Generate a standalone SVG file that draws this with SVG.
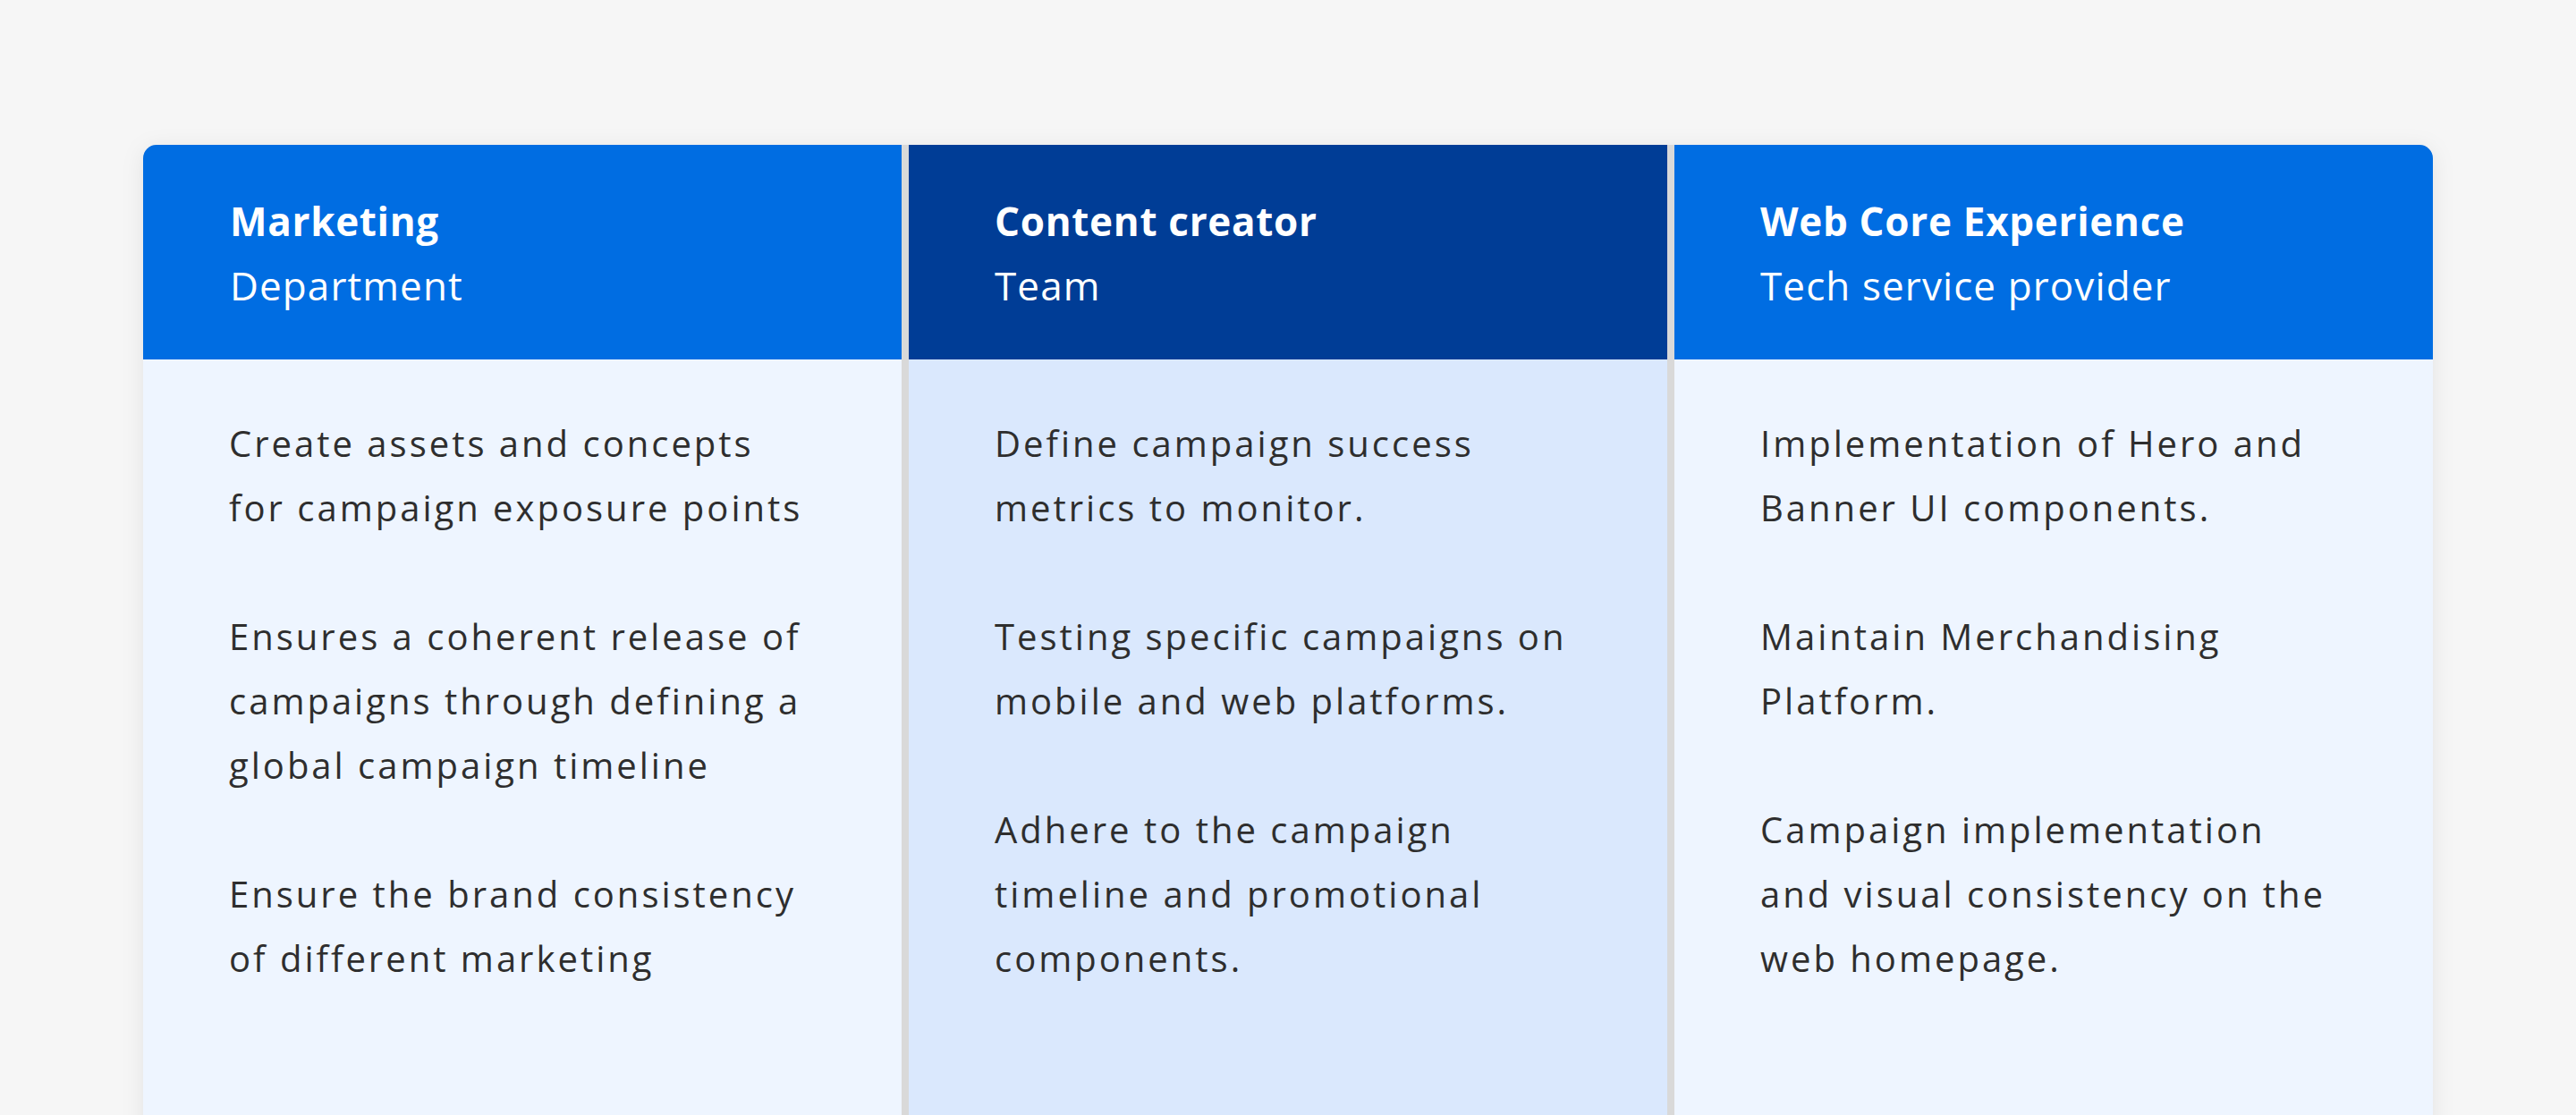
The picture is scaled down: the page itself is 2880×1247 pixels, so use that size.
<svg xmlns="http://www.w3.org/2000/svg" width="2880" height="1247" viewBox="0 0 2880 1247">
  <style>
    .hd1 { font-family: "Open Sans", "Liberation Sans", sans-serif; font-size: 44px; font-weight: 700; fill: #FFFFFF; letter-spacing: 0.7px; }
    .hd2 { font-family: "Open Sans", "Liberation Sans", sans-serif; font-size: 44px; font-weight: 400; fill: #FFFFFF; letter-spacing: 1.1px; }
    .body { font-family: "Open Sans", "Liberation Sans", sans-serif; font-size: 40px; font-weight: 400; fill: #2E2E2E; letter-spacing: 3px; }
    .hdr-light { fill: #006DE2; }
    .hdr-dark { fill: #003D96; }
    .bg-light { fill: #EEF5FF; }
    .bg-dark { fill: #DAE8FD; }
  </style>
  <defs>
    <clipPath id="cardClip">
      <path d="M160,177 A15,15 0 0 1 175,162 H2705 A15,15 0 0 1 2720,177 V1270 H160 Z"/>
    </clipPath>
    <filter id="shadow" x="-5%" y="-10%" width="110%" height="130%">
      <feDropShadow dx="0" dy="4" stdDeviation="12" flood-color="#000000" flood-opacity="0.08"/>
    </filter>
  </defs>

  <rect x="0" y="0" width="2880" height="1247" fill="#F6F6F6"/>

  <path id="card" d="M160,177 A15,15 0 0 1 175,162 H2705 A15,15 0 0 1 2720,177 V1270 H160 Z" fill="#D9D9D9" filter="url(#shadow)"/>

  <g clip-path="url(#cardClip)">
    <g id="col-marketing">
      <rect class="hdr-light" x="160" y="162" width="848" height="240"/>
      <rect class="bg-light" x="160" y="402" width="848" height="870"/>
      <text class="hd1" x="257" y="264">Marketing</text>
      <text class="hd2" x="257" y="336">Department</text>
      <text class="body" x="256" y="511">Create assets and concepts</text>
      <text class="body" x="256" y="583">for campaign exposure points</text>
      <text class="body" x="256" y="727">Ensures a coherent release of</text>
      <text class="body" x="256" y="799">campaigns through defining a</text>
      <text class="body" x="256" y="871">global campaign timeline</text>
      <text class="body" x="256" y="1015">Ensure the brand consistency</text>
      <text class="body" x="256" y="1087">of different marketing</text>
    </g>

    <g id="col-content-creator">
      <rect class="hdr-dark" x="1016" y="162" width="848" height="240"/>
      <rect class="bg-dark" x="1016" y="402" width="848" height="870"/>
      <text class="hd1" x="1112" y="264">Content creator</text>
      <text class="hd2" x="1112" y="336">Team</text>
      <text class="body" x="1112" y="511">Define campaign success</text>
      <text class="body" x="1112" y="583">metrics to monitor.</text>
      <text class="body" x="1112" y="727">Testing specific campaigns on</text>
      <text class="body" x="1112" y="799">mobile and web platforms.</text>
      <text class="body" x="1112" y="943">Adhere to the campaign</text>
      <text class="body" x="1112" y="1015">timeline and promotional</text>
      <text class="body" x="1112" y="1087">components.</text>
    </g>

    <g id="col-web-core">
      <rect class="hdr-light" x="1872" y="162" width="848" height="240"/>
      <rect class="bg-light" x="1872" y="402" width="848" height="870"/>
      <text class="hd1" x="1968" y="264">Web Core Experience</text>
      <text class="hd2" x="1968" y="336">Tech service provider</text>
      <text class="body" x="1968" y="511">Implementation of Hero and</text>
      <text class="body" x="1968" y="583">Banner UI components.</text>
      <text class="body" x="1968" y="727">Maintain Merchandising</text>
      <text class="body" x="1968" y="799">Platform.</text>
      <text class="body" x="1968" y="943">Campaign implementation</text>
      <text class="body" x="1968" y="1015">and visual consistency on the</text>
      <text class="body" x="1968" y="1087">web homepage.</text>
    </g>
  </g>

  <g id="connectors"/>
</svg>
